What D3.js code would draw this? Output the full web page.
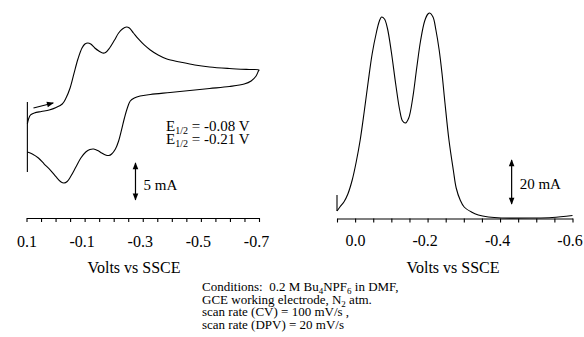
<!DOCTYPE html>
<html><head><meta charset="utf-8">
<script src="https://cdn.jsdelivr.net/npm/d3@7"></script>
<style>
body{margin:0;background:#fff}
svg{display:block}
text{font-family:"Liberation Serif","Times New Roman",serif;fill:#000;white-space:pre}
</style>
</head><body><svg id="c" width="584" height="337"></svg>
<script>
// ---- Cyclic voltammogram (CV): potential (V vs SSCE), current (mA) ----
const cvForwardE = [0.097,0.093,0.086,0.073,0.049,0.022,-0.002,-0.023,-0.036,-0.050,-0.063,-0.077,-0.091,-0.101,-0.111,-0.121,-0.135,-0.149,-0.162,-0.172,-0.186,-0.203,-0.217,-0.230,-0.244,-0.254,-0.268,-0.285,-0.305,-0.326,-0.353,-0.383,-0.428,-0.479,-0.530,-0.598,-0.666,-0.700];
const cvForwardI = [-0.54,0.14,0.68,0.95,1.15,1.35,1.69,2.16,2.97,4.32,6.22,8.24,9.73,10.27,10.41,10.27,9.73,9.32,9.05,9.12,9.73,10.81,11.76,12.30,12.57,12.43,11.76,10.95,10.14,9.46,8.78,8.24,7.84,7.43,7.16,6.96,6.82,6.76];
const cvReverseE = [-0.698,-0.690,-0.673,-0.649,-0.598,-0.530,-0.462,-0.394,-0.326,-0.291,-0.271,-0.257,-0.247,-0.237,-0.227,-0.217,-0.206,-0.193,-0.183,-0.172,-0.159,-0.145,-0.131,-0.118,-0.104,-0.087,-0.070,-0.053,-0.040,-0.029,-0.019,-0.002,0.018,0.039,0.059,0.080,0.097];
const cvReverseI = [6.62,5.95,5.27,4.86,4.53,4.26,3.99,3.72,3.45,3.24,2.97,2.57,1.62,0.27,-1.35,-2.84,-3.92,-4.59,-4.80,-4.73,-4.46,-4.12,-3.92,-3.99,-4.32,-5.14,-6.35,-7.57,-8.31,-8.51,-8.38,-7.70,-6.76,-5.95,-5.14,-4.59,-4.32];
const cvTickValues = [0.1,0.05,0,-0.05,-0.1,-0.15,-0.2,-0.25,-0.3,-0.35,-0.4,-0.45,-0.5,-0.55,-0.6,-0.65,-0.7];
const cvLabelValues = [0.1,-0.1,-0.3,-0.5,-0.7];
const cvTickLabels = ["0.1","-0.1","-0.3","-0.5","-0.7"];
const cvHalfWave = ["-0.08 V","-0.21 V"];

// ---- Differential pulse voltammogram (DPV) ----
const dpvE = [0.050,0.042,0.031,0.020,0.008,-0.003,-0.014,-0.025,-0.036,-0.047,-0.059,-0.067,-0.073,-0.081,-0.089,-0.100,-0.112,-0.123,-0.131,-0.139,-0.148,-0.159,-0.170,-0.181,-0.192,-0.201,-0.206,-0.215,-0.223,-0.232,-0.240,-0.248,-0.259,-0.271,-0.279,-0.290,-0.301,-0.321,-0.340,-0.368,-0.404,-0.488,-0.544,-0.600];
const dpvI = [3.5,5.5,8,12,19,28,39,53,68,82,93,98.5,100.5,99.5,95,83,67,54,48.5,47.5,50,60,75,89,98.5,102,102.5,100.5,94,84,72,57.5,39,24,15,9,5.5,3,1.5,0.5,0,0,0.25,1.25];
const dpvTickValues = [0.05,0,-0.05,-0.1,-0.15,-0.2,-0.25,-0.3,-0.35,-0.4,-0.45,-0.5,-0.55,-0.6];
const dpvLabelValues = [0,-0.2,-0.4,-0.6];
const dpvTickLabels = ["0.0","-0.2","-0.4","-0.6"];

const conditions = [
  [["Conditions:  0.2 M Bu",0],["4",1],["NPF",0],["6",1],[" in DMF,",0]],
  [["GCE working electrode, N",0],["2",1],[" atm.",0]],
  [["scan rate (CV) = 100 mV/s ,",0]],
  [["scan rate (DPV) = 20 mV/s",0]]
];

const svg = d3.select("#c");
const defs = svg.append("defs");
defs.append("marker").attr("id","ah").attr("viewBox","0 0 10 10")
  .attr("refX",9).attr("refY",5).attr("markerWidth",8).attr("markerHeight",7)
  .attr("markerUnits","userSpaceOnUse").attr("orient","auto-start-reverse")
  .append("path").attr("d","M0,1 L10,5 L0,9 Z").attr("fill","#000");

const labelFor = (vals, labels) => (d) => {
  const k = vals.findIndex(v => Math.abs(v - d) < 1e-9);
  return k >= 0 ? labels[k] : "";
};

// ===== CV panel =====
const cvX = d3.scaleLinear().domain([0.1,-0.7]).range([26.5,259]);
const cvY = d3.scaleLinear().domain([0,10]).range([120,46]);
const cvPts = cvForwardE.map((e,i)=>[e,cvForwardI[i]])
  .concat(cvReverseE.map((e,i)=>[e,cvReverseI[i]]));
svg.append("path").datum(cvPts)
  .attr("d", d3.line().x(d=>cvX(d[0])).y(d=>cvY(d[1])).curve(d3.curveCatmullRom.alpha(0.5)))
  .attr("fill","none").attr("stroke","#000").attr("stroke-width",1.1);
svg.append("line").attr("x1",cvX(0.097)).attr("x2",cvX(0.097))
  .attr("y1",cvY(2.43)).attr("y2",cvY(-7.03)).attr("stroke","#000").attr("stroke-width",1.1);
svg.append("line").attr("x1",cvX(0.076)).attr("y1",cvY(1.62))
  .attr("x2",cvX(0.008)).attr("y2",cvY(2.30))
  .attr("stroke","#000").attr("stroke-width",1.2).attr("marker-end","url(#ah)");
const cvAxis = d3.axisBottom(cvX).tickValues(cvTickValues).tickFormat(labelFor(cvLabelValues,cvTickLabels))
  .tickSize(4).tickSizeOuter(0).tickPadding(14);
const gcv = svg.append("g").attr("transform","translate(0,218)").call(cvAxis);
cvHalfWave.forEach((v,k)=>{
  const t = svg.append("text").attr("x",166).attr("y",131+13*k).attr("font-size",15);
  t.append("tspan").text("E");
  t.append("tspan").attr("font-size",10).attr("dy",3).text("1/2");
  t.append("tspan").attr("dy",-3).text(" = "+v);
});
svg.append("line").attr("x1",cvX(-0.275)).attr("x2",cvX(-0.275))
  .attr("y1",cvY(-5.8)).attr("y2",cvY(-10.8))
  .attr("stroke","#000").attr("stroke-width",1.2)
  .attr("marker-start","url(#ah)").attr("marker-end","url(#ah)");
svg.append("text").attr("x",cvX(-0.275)+8).attr("y",190).attr("font-size",15).text("5 mA");
svg.append("text").attr("x",134).attr("y",273).attr("font-size",16).attr("text-anchor","middle").text("Volts vs SSCE");

// ===== DPV panel =====
const dpvX = d3.scaleLinear().domain([0.05,-0.6]).range([337,572.5]);
const dpvY = d3.scaleLinear().domain([0,100]).range([218,18]);
svg.append("path").datum(dpvE.map((e,i)=>[e,dpvI[i]]))
  .attr("d", d3.line().x(d=>dpvX(d[0])).y(d=>dpvY(d[1])).curve(d3.curveCatmullRom.alpha(0.5)))
  .attr("fill","none").attr("stroke","#000").attr("stroke-width",1.1);
svg.append("line").attr("x1",dpvX(0.05)).attr("x2",dpvX(0.05))
  .attr("y1",dpvY(11.5)).attr("y2",dpvY(3.5)).attr("stroke","#000").attr("stroke-width",1.1);
const dpvAxis = d3.axisBottom(dpvX).tickValues(dpvTickValues).tickFormat(labelFor(dpvLabelValues,dpvTickLabels))
  .tickSize(4).tickSizeOuter(0).tickPadding(12);
const gdp = svg.append("g").attr("transform","translate(0,218.5)").call(dpvAxis);
svg.append("line").attr("x1",dpvX(-0.432)).attr("x2",dpvX(-0.432))
  .attr("y1",dpvY(29)).attr("y2",dpvY(7))
  .attr("stroke","#000").attr("stroke-width",1.2)
  .attr("marker-start","url(#ah)").attr("marker-end","url(#ah)");
svg.append("text").attr("x",dpvX(-0.432)+8).attr("y",189).attr("font-size",15).text("20 mA");
svg.append("text").attr("x",453).attr("y",273).attr("font-size",16).attr("text-anchor","middle").text("Volts vs SSCE");

[gcv,gdp].forEach(g=>{
  g.select(".domain").attr("stroke","#000").attr("stroke-width",1.2);
  g.selectAll(".tick line").attr("stroke","#000").attr("stroke-width",1.1);
  g.selectAll(".tick text").attr("font-size",16).attr("font-family","Liberation Serif, serif")
    .attr("dx", d => d < -1e-9 ? -3 : 0);
});

conditions.forEach((line,k)=>{
  const t = svg.append("text").attr("x",202).attr("y",291+12.5*k).attr("font-size",13);
  let shifted = false;
  line.forEach(([s,sub])=>{
    const ts = t.append("tspan").text(s);
    if (sub) { ts.attr("font-size",9).attr("dy",shifted?0:3); shifted = true; }
    else if (shifted) { ts.attr("dy",-3); shifted = false; }
  });
});
</script>
</body></html>
